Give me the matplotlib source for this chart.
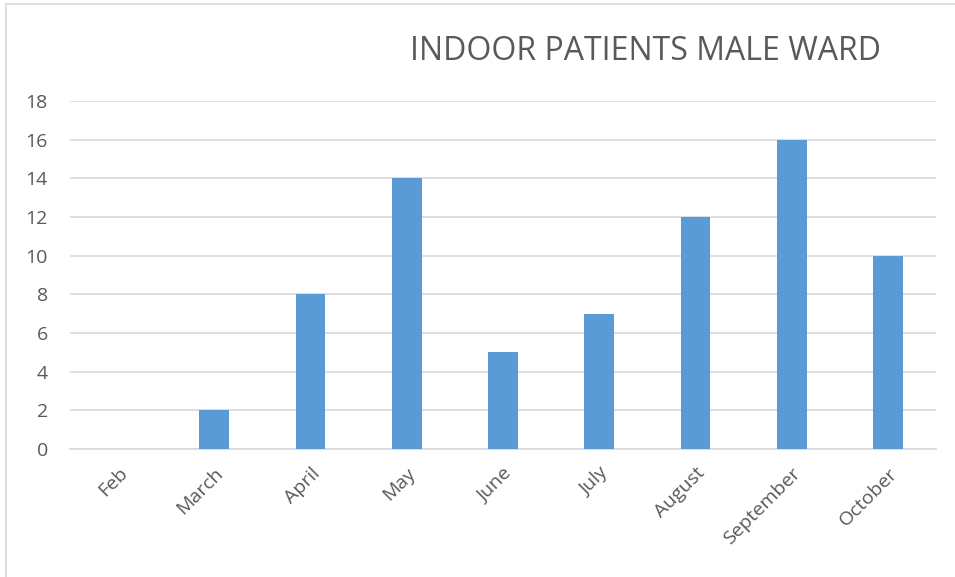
import matplotlib
matplotlib.use('Agg')
import matplotlib.pyplot as plt
from matplotlib.patches import Rectangle

plt.rcParams['font.family'] = ['Open Sans', 'DejaVu Sans']

months = ['Feb', 'March', 'April', 'May', 'June', 'July', 'August', 'September', 'October']
patients = [0, 2, 8, 14, 5, 7, 12, 16, 10]
y_ticks = [0, 2, 4, 6, 8, 10, 12, 14, 16, 18]

W, H = 955, 577
fig = plt.figure(figsize=(W / 100, H / 100), dpi=100)

# chart border (only left and top edges show in the crop)
fig.patches.append(Rectangle((6 / W, -0.1), 1.2, (H - 4) / H + 0.1, transform=fig.transFigure,
                             fill=False, edgecolor='#d9d9d9', linewidth=1.2))

ax = fig.add_axes([70 / W, 1 - 449 / H, (936 - 70) / W, (449 - 101) / H])
x = range(len(months))
ax.bar(x, patients, width=0.31, color='#5b9bd5', zorder=3)

ax.set_xlim(-0.5, len(months) - 0.5)
ax.set_ylim(0, 18)
ax.set_yticks(y_ticks)
ax.set_yticklabels([str(v) for v in y_ticks], fontsize=14, color='#595959')
ax.set_xticks(list(x))
ax.set_xticklabels(months, rotation=45, ha='right', rotation_mode='anchor',
                   fontsize=14, color='#595959')
ax.tick_params(axis='both', length=0)
ax.tick_params(axis='y', pad=16)
ax.tick_params(axis='x', pad=11)
ax.grid(axis='y', color='#d9d9d9', linewidth=1.2, zorder=0)
for s in ['top', 'right', 'left']:
    ax.spines[s].set_visible(False)
ax.spines['bottom'].set_color('#d9d9d9')
ax.spines['bottom'].set_linewidth(1.2)

fig.text(645 / W, 1 - 51 / H, 'INDOOR PATIENTS MALE WARD', ha='center', va='center',
         fontsize=23, color='#595959')

fig.savefig('out.png', dpi=100)
